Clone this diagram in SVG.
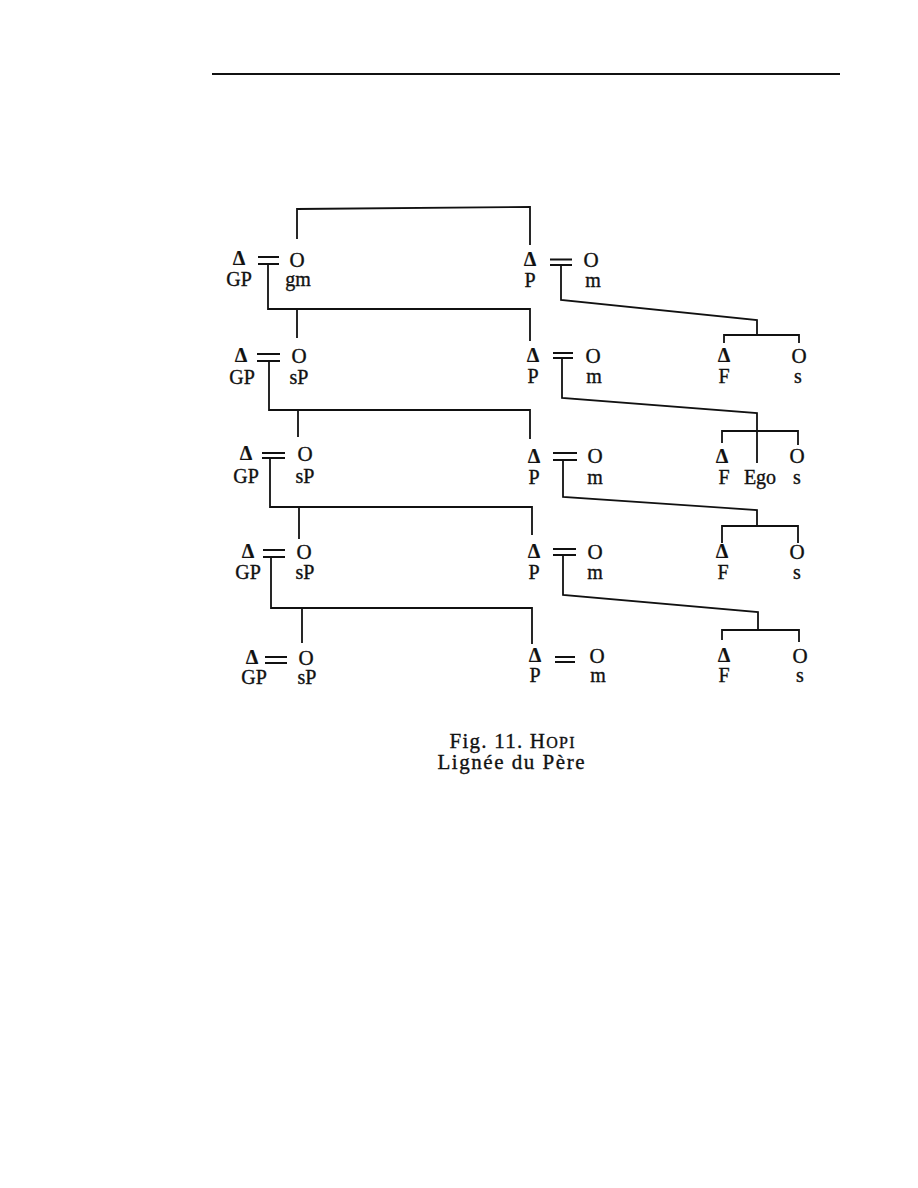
<svg xmlns="http://www.w3.org/2000/svg" width="918" height="1188" viewBox="0 0 918 1188">
<style>
text{font-family:"Liberation Serif","DejaVu Serif",serif;font-size:20px;fill:#111;stroke:#111;stroke-width:0.35;text-anchor:middle}
.tri{font-size:20px;font-weight:bold;stroke-width:0.2}
.o{font-size:21px}
.ln{stroke:#111;stroke-width:1.8;fill:none;stroke-linejoin:miter}
.cap{font-size:21px}
</style>
<rect width="918" height="1188" fill="#fff"/>
<line class="ln" x1="212" y1="74" x2="840" y2="74"/>

<g id="connectors">
<!-- marriage signs -->
<path class="ln" d="M258,257H279M258,264H279"/>
<path class="ln" d="M550,259.5H572M550,265H572"/>
<path class="ln" d="M257,354H280M257,361H280"/>
<path class="ln" d="M553,353H573M553,358H573"/>
<path class="ln" d="M262,453H285M262,458H285"/>
<path class="ln" d="M553,453H577M553,460H577"/>
<path class="ln" d="M263,550H285M263,557H285"/>
<path class="ln" d="M553,549H576M553,555H576"/>
<path class="ln" d="M265,657H287M265,663H287"/>
<path class="ln" d="M555,657H575M555,662H575"/>
<!-- top bracket -->
<path class="ln" d="M297,239V209L530,207V245"/>
<!-- GP lines -->
<path class="ln" d="M268,264V309H530V341M297,309V338"/>
<path class="ln" d="M269,361V410H530V439M298,410V437"/>
<path class="ln" d="M270,458V507H532V535M299,507V539"/>
<path class="ln" d="M271,557V608H532V644M302,608V643"/>
<!-- P lines -->
<path class="ln" d="M561,265V300L757,320V335"/>
<path class="ln" d="M724,343V335H799V343"/>
<path class="ln" d="M562,358V398L757,413V463"/>
<path class="ln" d="M722,443V431H798V445"/>
<path class="ln" d="M563,460V497L757,510V526"/>
<path class="ln" d="M722,543V526H798V543"/>
<path class="ln" d="M563,555V595L758,612V630"/>
<path class="ln" d="M722,640V630H799V642"/>
</g>

<!-- Row 1 -->
<g id="gp1"><text class="tri" x="239" y="265">Δ</text><text x="239" y="286">GP</text></g>
<g id="gm1"><text class="o" x="297" y="267">O</text><text x="298" y="286">gm</text></g>
<g id="p1"><text class="tri" x="530" y="266">Δ</text><text x="530" y="287">P</text></g>
<g id="m1"><text class="o" x="591" y="267">O</text><text x="593" y="287">m</text></g>

<!-- Row 2 -->
<g id="gp2"><text class="tri" x="241" y="362">Δ</text><text x="242" y="384">GP</text></g>
<g id="sp2"><text class="o" x="299" y="363">O</text><text x="299" y="384">sP</text></g>
<g id="p2"><text class="tri" x="533" y="362">Δ</text><text x="533" y="383">P</text></g>
<g id="m2"><text class="o" x="593" y="363">O</text><text x="594" y="383">m</text></g>
<g id="f2"><text class="tri" x="724" y="362">Δ</text><text x="724" y="383">F</text></g>
<g id="s2"><text class="o" x="799" y="363">O</text><text x="798" y="383">s</text></g>

<!-- Row 3 -->
<g id="gp3"><text class="tri" x="246" y="460">Δ</text><text x="246" y="483">GP</text></g>
<g id="sp3"><text class="o" x="305" y="461">O</text><text x="305" y="483">sP</text></g>
<g id="p3"><text class="tri" x="534" y="463">Δ</text><text x="534" y="484">P</text></g>
<g id="m3"><text class="o" x="595" y="463">O</text><text x="595" y="484">m</text></g>
<g id="f3"><text class="tri" x="722" y="463">Δ</text><text x="724" y="484">F</text></g>
<g id="ego"><text x="760" y="484">Ego</text></g>
<g id="s3"><text class="o" x="797" y="463">O</text><text x="797" y="484">s</text></g>

<!-- Row 4 -->
<g id="gp4"><text class="tri" x="248" y="558">Δ</text><text x="248" y="579">GP</text></g>
<g id="sp4"><text class="o" x="304" y="559">O</text><text x="305" y="579">sP</text></g>
<g id="p4"><text class="tri" x="534" y="558">Δ</text><text x="534" y="579">P</text></g>
<g id="m4"><text class="o" x="595" y="559">O</text><text x="595" y="579">m</text></g>
<g id="f4"><text class="tri" x="722" y="558">Δ</text><text x="723" y="579">F</text></g>
<g id="s4"><text class="o" x="797" y="559">O</text><text x="797" y="579">s</text></g>

<!-- Row 5 -->
<g id="gp5"><text class="tri" x="252" y="664">Δ</text><text x="254" y="684">GP</text></g>
<g id="sp5"><text class="o" x="306" y="665">O</text><text x="307" y="684">sP</text></g>
<g id="p5"><text class="tri" x="535" y="662">Δ</text><text x="535" y="682">P</text></g>
<g id="m5"><text class="o" x="597" y="663">O</text><text x="598" y="682">m</text></g>
<g id="f5"><text class="tri" x="724" y="662">Δ</text><text x="724" y="682">F</text></g>
<g id="s5"><text class="o" x="800" y="663">O</text><text x="800" y="682">s</text></g>

<g id="caption">
<text class="cap" x="512" y="748" textLength="125" lengthAdjust="spacing">Fig. 11. H<tspan font-size="16">OPI</tspan></text>
<text class="cap" x="511" y="769" textLength="147" lengthAdjust="spacing">Lignée du Père</text>
</g>
</svg>
